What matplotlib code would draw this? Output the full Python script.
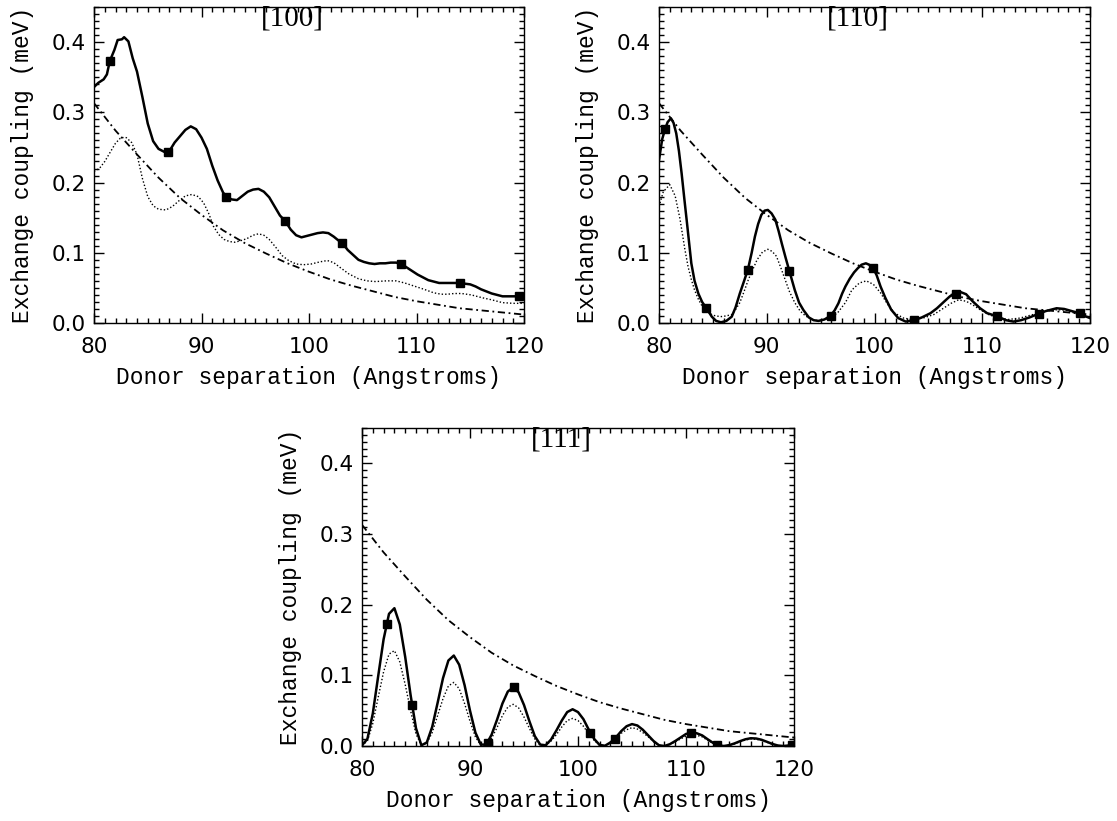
import numpy as np
import matplotlib
matplotlib.use("Agg")
import matplotlib.pyplot as plt
from matplotlib.ticker import MultipleLocator, FormatStrFormatter

# ---- shared dash-dot envelope ----
env_x = [80, 82, 84, 86, 88, 90, 92, 94, 96, 98, 100, 102, 104, 106, 108, 110, 112, 114, 116, 118, 120]
env_y = [0.313, 0.274, 0.240, 0.207, 0.178, 0.154, 0.132, 0.114, 0.099, 0.085, 0.073, 0.062,
         0.053, 0.045, 0.037, 0.031, 0.026, 0.021, 0.018, 0.015, 0.012]

# ---- [100] ----
p100_solid_x = [80.0, 80.4, 80.9, 81.2, 81.47, 81.9, 82.2, 82.6, 82.8, 83.2, 83.6, 84.0, 84.5, 85.0,
                85.5, 86.0, 86.5, 86.9, 87.5, 88.0, 88.5, 89.0, 89.5, 90.0, 90.5, 91.0, 91.5, 92.0,
                92.3, 92.8, 93.3, 93.8, 94.3, 94.8, 95.3, 95.8, 96.3, 96.8, 97.3, 97.8, 98.3, 98.8,
                99.3, 99.8, 100.3, 100.8, 101.3, 101.8, 102.3, 102.7, 103.1, 103.6, 104.1, 104.6,
                105.1, 105.6, 106.1, 106.6, 107.1, 107.6, 108.1, 108.6, 109.1, 109.6, 110.1, 110.6,
                111.1, 111.6, 112.1, 112.6, 113.1, 113.6, 114.0, 114.5, 115.0, 115.5, 116.0, 116.5,
                117.0, 117.5, 118.0, 118.5, 119.0, 119.5, 120.0]
p100_solid_y = [0.336, 0.342, 0.347, 0.354, 0.373, 0.389, 0.403, 0.404, 0.407, 0.401, 0.377, 0.358,
                0.322, 0.284, 0.259, 0.248, 0.244, 0.242, 0.257, 0.266, 0.275, 0.280, 0.276, 0.264,
                0.248, 0.224, 0.203, 0.186, 0.180, 0.176, 0.175, 0.181, 0.187, 0.190, 0.191, 0.187,
                0.179, 0.166, 0.153, 0.145, 0.133, 0.125, 0.122, 0.124, 0.126, 0.128, 0.129, 0.128,
                0.123, 0.118, 0.114, 0.104, 0.097, 0.090, 0.087, 0.085, 0.084, 0.085, 0.085, 0.086,
                0.086, 0.084, 0.079, 0.074, 0.069, 0.065, 0.061, 0.059, 0.057, 0.057, 0.057, 0.057,
                0.057, 0.056, 0.055, 0.052, 0.048, 0.045, 0.042, 0.040, 0.038, 0.038, 0.038, 0.038,
                0.038]
p100_dot_x = [80.0, 80.5, 81.0, 81.5, 82.0, 82.5, 83.0, 83.5, 84.0, 84.5, 85.0, 85.5, 86.0, 86.7,
              87.3, 87.9, 88.5, 89.1, 89.7, 90.2, 90.7, 91.1, 91.6, 92.1, 92.6, 93.1, 93.6, 94.2,
              94.8, 95.3, 95.8, 96.3, 96.9, 97.5, 98.1, 98.8, 99.5, 100.2, 101.0, 101.7, 102.3,
              102.9, 103.7, 104.6, 105.4, 106.2, 107.2, 108.1, 108.9, 109.7, 110.7, 111.6, 112.3,
              112.9, 113.5, 114.2, 115.1, 116.1, 117.0, 118.0, 119.0, 120.0]
p100_dot_y = [0.216, 0.220, 0.230, 0.243, 0.256, 0.264, 0.264, 0.257, 0.240, 0.206, 0.180, 0.167,
              0.162, 0.161, 0.166, 0.174, 0.181, 0.183, 0.180, 0.171, 0.155, 0.138, 0.126, 0.119,
              0.116, 0.115, 0.117, 0.120, 0.125, 0.127, 0.125, 0.119, 0.108, 0.096, 0.089, 0.084,
              0.083, 0.084, 0.087, 0.089, 0.086, 0.079, 0.070, 0.063, 0.060, 0.059, 0.060, 0.060,
              0.057, 0.053, 0.048, 0.043, 0.041, 0.041, 0.042, 0.042, 0.040, 0.036, 0.033, 0.029,
              0.028, 0.028]
p100_mark_x = [81.47, 86.9, 92.3, 97.8, 103.1, 108.6, 114.0, 119.5]
p100_mark_y = [0.373, 0.243, 0.180, 0.145, 0.114, 0.084, 0.057, 0.038]

# ---- [110] ----
p110_solid_x = [80.0, 80.3, 80.56, 80.8, 81.1, 81.35, 81.6, 81.85, 82.1, 82.35, 82.6, 83.0, 83.3,
                83.65, 84.0, 84.4, 84.9, 85.3, 85.75, 86.25, 86.75, 87.1, 87.5, 87.9, 88.25, 88.6,
                88.9, 89.2, 89.5, 89.8, 90.1, 90.45, 90.8, 91.1, 91.4, 91.75, 92.1, 92.6, 93.0,
                93.4, 93.9, 94.35, 94.8, 95.35, 95.9, 96.3, 96.65, 97.0, 97.3, 97.7, 98.1, 98.45,
                98.8, 99.2, 99.5, 99.85, 100.2, 100.56, 101.0, 101.55, 102.2, 102.9, 103.7, 104.4,
                105.2, 105.8, 106.5, 107.0, 107.5, 108.0, 108.5, 109.1, 109.8, 110.45, 111.4,
                112.2, 112.9, 113.6, 114.4, 115.2, 115.9, 116.9, 117.6, 118.3, 119.0, 119.5, 120.0]
p110_solid_y = [0.232, 0.262, 0.276, 0.286, 0.2915, 0.285, 0.270, 0.245, 0.213, 0.177, 0.142, 0.085,
                0.060, 0.042, 0.030, 0.021, 0.009, 0.003, 0.001, 0.003, 0.009, 0.022, 0.042, 0.060,
                0.076, 0.100, 0.123, 0.141, 0.154, 0.160, 0.161, 0.156, 0.147, 0.131, 0.113, 0.093,
                0.074, 0.047, 0.029, 0.0185, 0.008, 0.004, 0.003, 0.005, 0.010, 0.018, 0.028, 0.042,
                0.052, 0.063, 0.072, 0.078, 0.083, 0.085, 0.083, 0.079, 0.068, 0.052, 0.036, 0.019,
                0.007, 0.002, 0.004, 0.008, 0.014, 0.021, 0.031, 0.038, 0.042, 0.044, 0.041, 0.031,
                0.021, 0.014, 0.0095, 0.004, 0.002, 0.004, 0.008, 0.013, 0.017, 0.021, 0.020,
                0.017, 0.014, 0.010, 0.007]
p110_dot_x = [80.0, 80.4, 81.0, 81.5, 81.95, 82.4, 82.7, 83.0, 83.3, 83.65, 84.0, 84.4, 85.0, 85.7,
              86.2, 86.75, 87.1, 87.5, 87.9, 88.3, 88.7, 89.1, 89.6, 90.1, 90.5, 90.9, 91.3, 91.7,
              92.1, 92.6, 93.1, 93.6, 94.2, 94.8, 95.4, 96.0, 96.6, 97.3, 97.9, 98.6, 99.24, 99.9,
              100.56, 101.2, 101.88, 102.7, 103.5, 104.5, 105.5, 106.3, 107.1, 107.8, 108.5, 109.1,
              109.8, 110.6, 111.5, 112.4, 113.5, 114.7, 115.9, 117.0, 117.8, 118.6, 119.3, 120.0]
p110_dot_y = [0.166, 0.187, 0.197, 0.181, 0.148, 0.105, 0.080, 0.062, 0.047, 0.034, 0.024, 0.017,
              0.011, 0.009, 0.010, 0.012, 0.019, 0.029, 0.045, 0.062, 0.076, 0.090, 0.101, 0.105,
              0.102, 0.095, 0.079, 0.062, 0.045, 0.029, 0.017, 0.010, 0.005, 0.003, 0.005, 0.008,
              0.015, 0.029, 0.047, 0.057, 0.060, 0.055, 0.043, 0.027, 0.014, 0.007, 0.005, 0.007,
              0.012, 0.020, 0.028, 0.033, 0.031, 0.026, 0.019, 0.012, 0.007, 0.005, 0.007, 0.012,
              0.017, 0.019, 0.018, 0.014, 0.010, 0.007]
p110_mark_x = [80.6, 84.4, 88.25, 92.1, 95.95, 99.85, 103.7, 107.55, 111.4, 115.3, 119.1]
p110_mark_y = [0.276, 0.021, 0.076, 0.074, 0.010, 0.079, 0.004, 0.042, 0.0095, 0.013, 0.014]

# ---- [111] ----
p111_x = [80.0, 80.5, 81.0, 81.5, 82.0, 82.5, 83.0, 83.5, 84.0, 84.5, 85.0, 85.5, 86.0, 86.5,
          87.0, 87.5, 88.0, 88.5, 89.0, 89.5, 90.0, 90.5, 91.0, 91.5, 92.0, 92.5, 93.0, 93.5,
          94.0, 94.5, 95.0, 95.5, 96.0, 96.5, 97.0, 97.5, 98.0, 98.5, 99.0, 99.5, 100.0, 100.5,
          101.0, 101.5, 102.0, 102.5, 103.0, 103.5, 104.0, 104.5, 105.0, 105.5, 106.0, 106.5,
          107.0, 107.5, 108.0, 108.5, 109.0, 109.5, 110.0, 110.5, 111.0, 111.5, 112.0, 112.5,
          113.0, 113.5, 114.0, 114.5, 115.0, 115.5, 116.0, 116.5, 117.0, 117.5, 118.0, 118.5,
          119.0, 119.5, 120.0]
p111_solid_y = [0.001, 0.010, 0.046, 0.099, 0.151, 0.187, 0.195, 0.172, 0.126, 0.072, 0.025, 0.001,
                0.005, 0.027, 0.061, 0.096, 0.121, 0.128, 0.115, 0.086, 0.050, 0.019, 0.002,
                0.002, 0.016, 0.037, 0.060, 0.077, 0.083, 0.076, 0.058, 0.035, 0.014, 0.002,
                0.001, 0.009, 0.022, 0.036, 0.048, 0.052, 0.048, 0.038, 0.023, 0.010, 0.0015,
                0.0004, 0.005, 0.012, 0.021, 0.028, 0.031, 0.029, 0.023, 0.015, 0.007, 0.001,
                0.000, 0.0025, 0.007, 0.012, 0.017, 0.019, 0.018, 0.015, 0.0096, 0.0045, 0.001,
                0.000, 0.0012, 0.0037, 0.0068, 0.0095, 0.011, 0.0106, 0.0088, 0.0059, 0.0029,
                0.0007, 0.000, 0.0007, 0.002]
p111_dot_y = [0.001, 0.007, 0.032, 0.069, 0.105, 0.130, 0.135, 0.119, 0.087, 0.050, 0.017, 0.001,
              0.004, 0.019, 0.043, 0.067, 0.085, 0.090, 0.081, 0.060, 0.035, 0.013, 0.001,
              0.001, 0.011, 0.026, 0.043, 0.055, 0.059, 0.054, 0.041, 0.025, 0.010, 0.001,
              0.001, 0.007, 0.016, 0.027, 0.036, 0.039, 0.036, 0.028, 0.017, 0.008, 0.001,
              0.000, 0.004, 0.010, 0.018, 0.023, 0.026, 0.024, 0.019, 0.013, 0.006, 0.001,
              0.000, 0.002, 0.006, 0.010, 0.014, 0.016, 0.015, 0.013, 0.008, 0.004, 0.001,
              0.000, 0.001, 0.003, 0.006, 0.0086, 0.010, 0.0095, 0.008, 0.0053, 0.0026,
              0.0006, 0.000, 0.0006, 0.0018]
p111_mark_x = [82.3, 84.65, 91.7, 94.05, 101.1, 103.45, 110.5, 112.85, 119.85]
p111_mark_y = [0.172, 0.058, 0.004, 0.083, 0.018, 0.010, 0.019, 0.001, 0.001]

panels = [
    ('[100]', p100_solid_x, p100_solid_y, p100_dot_x, p100_dot_y, p100_mark_x, p100_mark_y),
    ('[110]', p110_solid_x, p110_solid_y, p110_dot_x, p110_dot_y, p110_mark_x, p110_mark_y),
    ('[111]', p111_x, p111_solid_y, p111_x, p111_dot_y, p111_mark_x, p111_mark_y),
]

W, H = 1117, 821
# axes boxes in pixels: left, top, right, bottom
boxes = [(94, 7, 524, 323), (659, 7, 1090, 323), (362, 428, 794, 746)]

fig = plt.figure(figsize=(W / 100, H / 100), dpi=100)

for (title, sx, sy, dx, dy, mx, my), (l, t, r, b) in zip(panels, boxes):
    ax = fig.add_axes([l / W, (H - b) / H, (r - l) / W, (b - t) / H])
    ax.plot(env_x, env_y, color='black', lw=1.3, linestyle=(0, (4, 2, 1, 2)))
    ax.plot(dx, dy, color='black', lw=1.0, linestyle=(0, (1, 1.5)))
    ax.plot(sx, sy, color='black', lw=1.8, solid_joinstyle='round')
    ax.plot(mx, my, 's', color='black', ms=6)

    ax.set_xlim(80, 120)
    ax.set_ylim(0, 0.45)
    ax.xaxis.set_major_locator(MultipleLocator(10))
    ax.xaxis.set_minor_locator(MultipleLocator(1))
    ax.yaxis.set_major_locator(MultipleLocator(0.1))
    ax.yaxis.set_minor_locator(MultipleLocator(0.01))
    ax.yaxis.set_major_formatter(FormatStrFormatter('%.1f'))
    ax.tick_params(which='both', direction='in', top=True, right=True, width=1, color='black')
    ax.tick_params(which='major', length=7)
    ax.tick_params(which='minor', length=3.5)
    ax.tick_params(axis='x', which='major', pad=10)
    ax.tick_params(axis='y', which='major', pad=6)
    for lab in ax.get_xticklabels() + ax.get_yticklabels():
        lab.set_fontfamily('DejaVu Sans')
        lab.set_fontsize(15.5)
    for sp in ax.spines.values():
        sp.set_linewidth(1)

    ax.set_xlabel('Donor separation (Angstroms)', family='Liberation Mono', fontsize=16.5)
    ax.set_ylabel('Exchange coupling (meV)', family='Liberation Mono', fontsize=16.5)
    ax.xaxis.set_label_coords(0.5, -0.135)
    ax.yaxis.set_label_coords(-0.14, 0.5)
    ax.text(0.462, 1.005, title, transform=ax.transAxes, ha='center', va='top',
            family='Liberation Serif', fontsize=21)

fig.savefig('out.png', dpi=100)
